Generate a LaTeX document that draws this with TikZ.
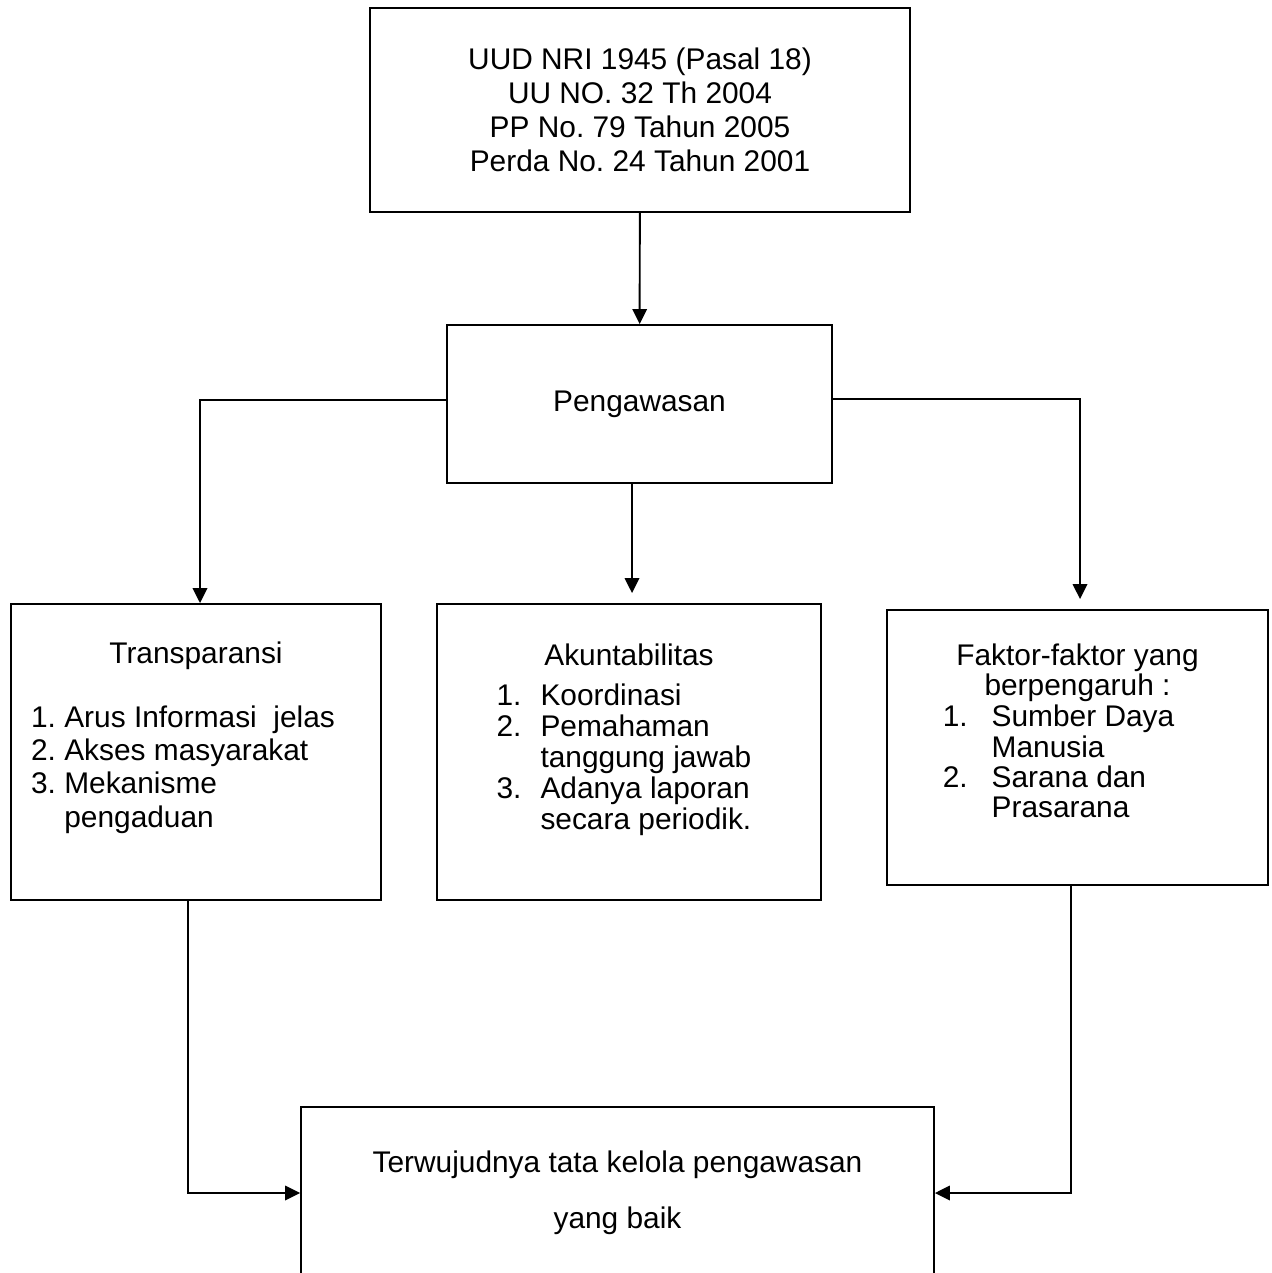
\documentclass[tikz,border=0pt]{standalone}
\usepackage{fontspec}
\setmainfont{Liberation Sans}
\frenchspacing
\usepackage{tikz}
\usetikzlibrary{arrows.meta, positioning}

\begin{document}
\begin{tikzpicture}[x=0.02cm, y=-0.02cm,
			box/.style={draw, line width=1.1pt, align=center,
				font=\fontsize{17}{18.5}\selectfont},
			arr/.style={-{Triangle[length=0.3cm, width=0.29cm]}, line width=1.1pt}
			]
			\clip (0,0) rectangle (1271,1273);
			\node[box, minimum width=10.8cm, minimum height=4.08cm,
				font=\fontsize{17}{19.4}\selectfont] (uud) at (640,110)
				{UUD NRI 1945 (Pasal 18)\\UU NO. 32 Th 2004\\PP No. 79 Tahun 2005\\Perda No. 24 Tahun 2001};
			\node[box, minimum width=7.7cm, minimum height=3.16cm] (awas) at (639.5,404) {Pengawasan};
			
			\node[box, minimum width=7.4cm, minimum height=5.92cm,
				font=\fontsize{17}{19}\selectfont] (trans) at (196,752)
				{Transparansi\\[17pt]\begin{tabular}[t]{@{}l@{\ }l@{\hspace{0.52cm}}}
					1. & Arus Informasi\ \ jelas\\
					2. & Akses masyarakat\\
					3. & Mekanisme\\
					   & pengaduan\end{tabular}\\[13pt]\mbox{}};
			\node[box, minimum width=7.68cm, minimum height=5.92cm,
				font=\fontsize{17}{17.6}\selectfont] (akun) at (629,752)
				{Akuntabilitas\\[5pt]\begin{tabular}[t]{@{}l@{\hspace{0.38cm}}l@{\hspace{0.2cm}}}
					1. & Koordinasi\\
					2. & Pemahaman\\
					   & tanggung jawab\\
					3. & Adanya laporan\\
					   & secara periodik.\end{tabular}\\[11pt]\mbox{}};
			\node[box, minimum width=7.62cm, minimum height=5.5cm,
				font=\fontsize{17}{16.8}\selectfont] (faktor) at (1077.5,747.5)
				{Faktor-faktor yang\\berpengaruh :\\[1pt]\begin{tabular}[t]{@{}l@{\hspace{0.48cm}}l@{\hspace{0.76cm}}}
					1. & Sumber Daya\\
					   & Manusia\\
					2. & Sarana dan\\
					   & Prasarana\end{tabular}\\[13pt]\mbox{}};
			\node[box, minimum width=12.66cm, minimum height=3.44cm,
				font=\fontsize{17}{32}\selectfont] (hasil) at (617.5,1193)
				{Terwujudnya tata kelola pengawasan\\yang baik};
			
			\draw[arr] (uud) -- (awas);
			\draw[arr] ([yshift=0.08cm]awas.west) -| ([xshift=0.08cm]trans.north);
			\draw[arr, shorten >=0.2cm] ([xshift=-0.15cm]awas.south) -- ([xshift=-0.15cm]awas.south |- akun.north);
			\draw[arr, shorten >=0.2cm] ([yshift=0.1cm]awas.east) -| ([xshift=0.05cm]faktor.north);
			\draw[arr] ([xshift=-0.16cm]trans.south) |- (hasil.west);
			\draw[arr] ([xshift=-0.13cm]faktor.south) |- (hasil.east);
	\end{tikzpicture}
\end{document}
